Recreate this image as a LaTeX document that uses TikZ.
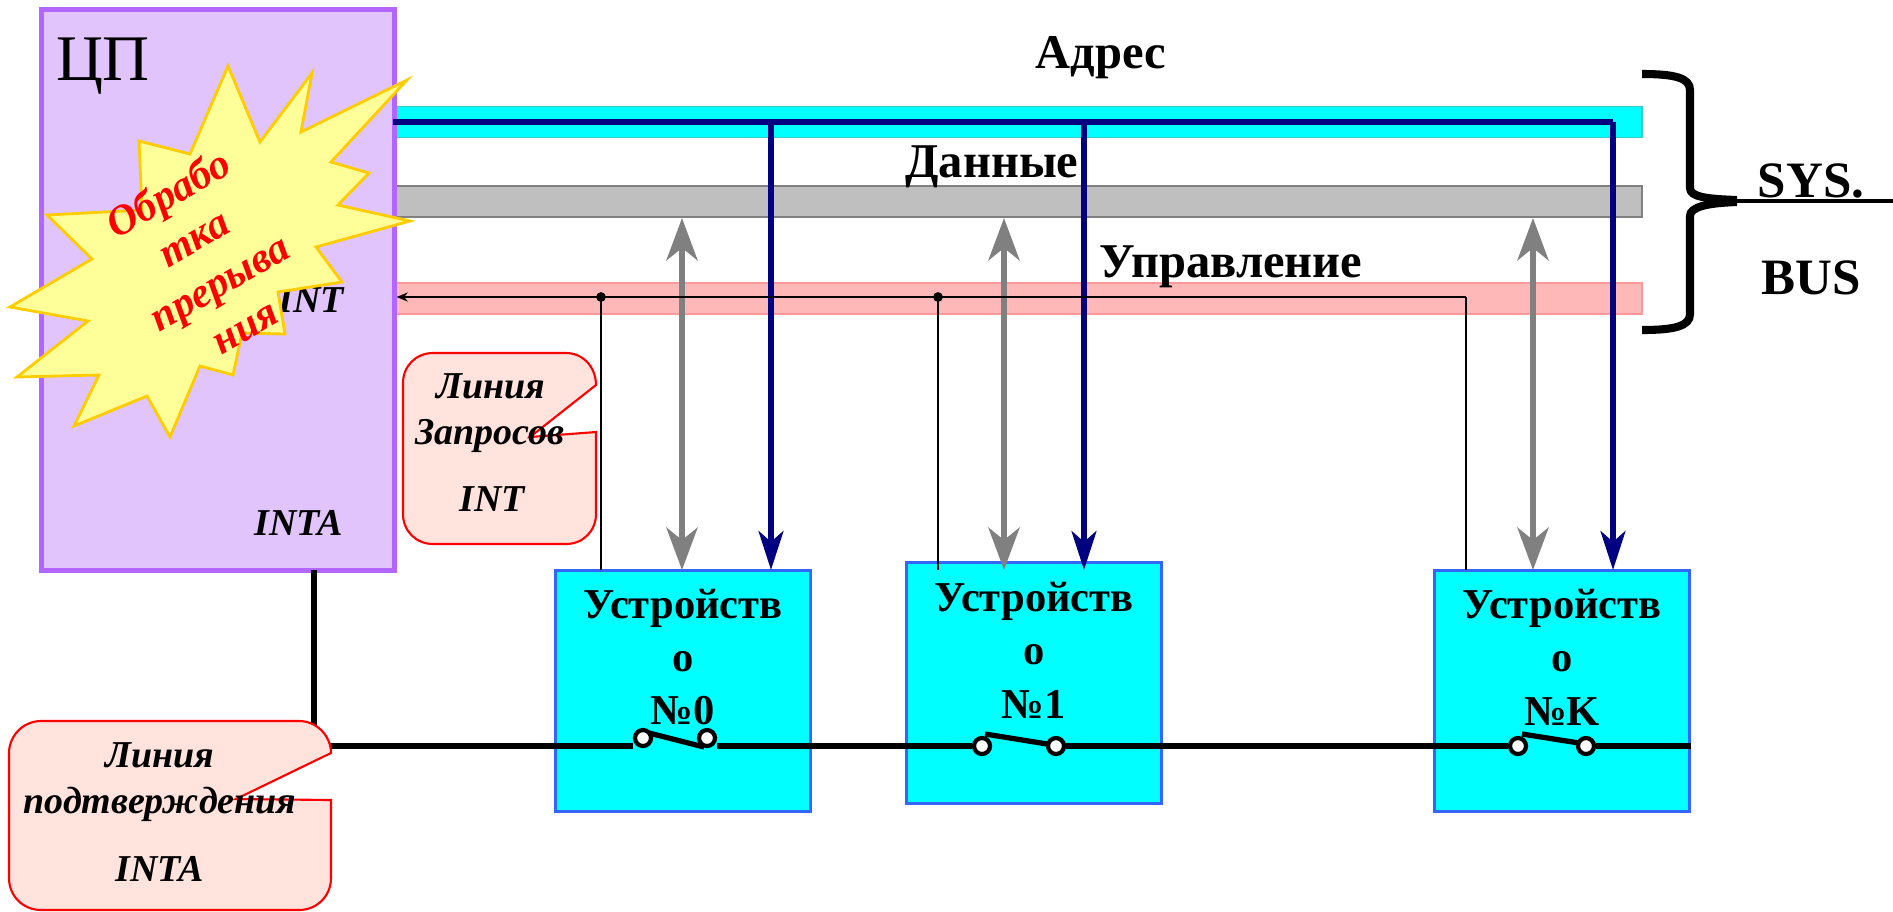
\documentclass[tikz,border=0pt]{standalone}
\usepackage{fontspec}
\setmainfont{Liberation Serif}
\usetikzlibrary{arrows.meta}

\tikzset{
    bar/.style={draw, line width=0.55pt, minimum width=12.47cm, minimum height=0.31cm, inner sep=0pt},
    cpubox/.style={draw=cpuedge, fill=cpufill, line width=1.4pt, minimum width=3.52cm, minimum height=5.6cm, inner sep=0pt},
    devbox/.style={draw=devedge, fill=purecyan, line width=0.7pt, minimum width=2.55cm, minimum height=2.41cm, inner sep=0pt},
    devtext/.style={align=center, font=\fontsize{12.1}{15.2}\selectfont\bfseries},
    buslabel/.style={font=\fontsize{13.8}{16}\selectfont\bfseries},
    syslabel/.style={font=\fontsize{14.5}{16}\selectfont\bfseries},
    itlabel/.style={font=\fontsize{10.8}{13}\selectfont\bfseries\itshape},
    callout/.style={draw=red, fill=calloutfill, line width=0.6pt},
    addrarrow/.style={draw=navyline, line width=1.8pt, -{Stealth[length=11pt, width=7pt, inset=3pt]}},
    dataarrow/.style={draw=gray, line width=1.9pt, {Stealth[length=12pt, width=8.8pt, inset=3.5pt]}-{Stealth[length=12pt, width=8.8pt, inset=3.5pt]}},
    reqline/.style={draw=black, line width=0.55pt},
    ackline/.style={draw=black, line width=1.5pt},
    contact/.style={circle, draw=black, fill=white, line width=1.2pt, minimum size=0.16cm, inner sep=0pt},
}
\definecolor{purecyan}{HTML}{00FFFF}
\definecolor{cyanedge}{HTML}{33CCCC}
\definecolor{cpufill}{HTML}{E0C4FB}
\definecolor{cpuedge}{HTML}{B266FF}
\definecolor{devedge}{HTML}{3366FF}
\definecolor{calloutfill}{HTML}{FFE3DC}
\definecolor{navyline}{HTML}{000080}
\definecolor{stargold}{HTML}{FFCC00}
\definecolor{starfill}{HTML}{FFFF99}

\begin{document}
\begin{tikzpicture}[x=0.01cm, y=-0.01cm]
    \useasboundingbox (0,0) rectangle (1893,911);

    % Шины
    \node[bar, draw=cyanedge, fill=purecyan] (addr) at (1018.5,122) {};
    \node[bar, draw=gray, fill=black!25] (data) at (1018.5,201.5) {};
    \node[bar, draw=red!40, fill=red!28] (ctrl) at (1018.5,298.5) {};
    \node[buslabel] (addrtext) at (1101,58) {Адрес};
    \node[buslabel] (datatext) at (992,167) {Данные};
    \node[buslabel] (ctrltext) at (1231,267) {Управление};

    % Процессор
    \node[cpubox] (cpu) at (218,290) {};
    \node[font=\fontsize{18.5}{20}\selectfont] (cputext) at (103,66) {ЦП};
    \node[itlabel] (inttext) at (311,300) {INT};
    \node[itlabel] (intatext) at (299,523) {INTA};

    % Устройства
    \foreach \nm/\cx/\cy/\ty in {0/683/691/657, 1/1034/683/650, K/1562/691/657} {
        \node[devbox] (dev\nm) at (\cx,\cy) {};
        \node[devtext] (devtext\nm) at (\cx,\ty) {Устройств\\о\\№\nm};
    }

    % Линия адреса и стрелки к устройствам
    \coordinate (addrL) at (393,122);
    \coordinate (addrR) at (1613,122);
    \foreach \nm/\ax/\gx in {0/771/682, 1/1084/1004, K/1613/1533} {
        \coordinate (atip\nm) at (\ax,570);
        \coordinate (gtip\nm) at (\gx,570);
        \draw[dataarrow] (gtip\nm) -- (gtip\nm |- data.south);
        \draw[addrarrow] (atip\nm |- addrL) -- (atip\nm);
    }
    \draw[draw=navyline, line width=1.9pt] (addrL) -- (addrR);

    % Линия запросов
    \coordinate (req0) at (601,297);
    \coordinate (req1) at (938,297);
    \coordinate (reqK) at (1466,297);
    \draw[reqline, -{Stealth[length=3.2pt, width=2.6pt]}] (reqK) -- (cpu.east |- reqK);
    \draw[reqline] (reqK) -- (1466,570);
    \draw[reqline] (req0) -- (601,570);
    \draw[reqline] (req1) -- (938,570);
    \fill (req0) circle (1.4pt);
    \fill (req1) circle (1.4pt);

    % Линия подтверждения с контактами
    \coordinate (ackT) at (314,570);
    \coordinate (ackC) at (314,746);
    \node[contact] (sw0a) at (643,738) {};
    \node[contact] (sw0b) at (707,738) {};
    \node[contact] (sw1a) at (982,746) {};
    \node[contact] (sw1b) at (1056,746) {};
    \node[contact] (swKa) at (1518,746) {};
    \node[contact] (swKb) at (1586,746) {};
    \draw[ackline] (ackT) -- (ackC) -- (ackC -| sw0a.west);
    \draw[ackline] (sw0b.east |- ackC) -- (ackC -| sw1a.west);
    \draw[ackline] (sw1b.east) -- (swKa.west);
    \draw[ackline] (swKb.east) -- (devK.east |- swKb);
    \draw[ackline] (649,733) -- (704,747);
    \draw[ackline] (985,734) -- (1047,744);
    \draw[ackline] (1522,734) -- (1579,743);

    % Выноски
    \draw[callout] (433,353) -- (566,353) .. controls (583,353) and (596,367) .. (596,385)
        -- (530,437) -- (596,432) -- (596,514) .. controls (596,531) and (583,544) .. (566,544)
        -- (433,544) .. controls (416,544) and (403,531) .. (403,514)
        -- (403,383) .. controls (403,366) and (416,353) .. (433,353) -- cycle;
    \node[itlabel] (reqtext1) at (491,386) {Линия};
    \node[itlabel] (reqtext2) at (490,436) {Запросов};
    \node[itlabel] (reqtext3) at (492,499) {INT};

    \draw[callout] (41,721) -- (299,721) .. controls (317,721) and (331,736) .. (331,753)
        -- (236,799) -- (331,800) -- (331,878) .. controls (331,896) and (317,910) .. (299,910)
        -- (41,910) .. controls (23,910) and (9,896) .. (9,878)
        -- (9,753) .. controls (9,736) and (23,721) .. (41,721) -- cycle;
    \node[itlabel] (acktext1) at (160,755) {Линия};
    \node[itlabel] (acktext2) at (160,804) {подтверждения};
    \node[itlabel] (acktext3) at (160,869) {INTA};

    % Звезда
    \draw[draw=stargold, fill=starfill, line width=0.8pt] (228,66) -- (260,142) -- (312,73) -- (301,132)
        -- (407,80) -- (331,162) -- (369,173) -- (338,205) -- (410,221) -- (316,247) -- (342,282)
        -- (278,292) -- (285,334) -- (242,333) -- (233,375) -- (200,366) -- (170,437) -- (147,396)
        -- (74,426) -- (99,375) -- (17,377) -- (88,321) -- (10,307) -- (92,259) -- (47,215)
        -- (142,210) -- (139,141) -- (190,154) -- cycle;
    \node[red, rotate=30, align=center, font=\fontsize{12}{14.5}\selectfont\bfseries\itshape] (isrtext) at (206,259) {Обрабо\\тка\\прерыва\\ния};

    % Скобка
    \draw[line width=2.3pt] (1642,74) .. controls (1675,74) and (1690,78) .. (1690,90)
        -- (1690,188) .. controls (1690,197) and (1707,199) .. (1737,200);
    \draw[line width=2.3pt] (1642,330) .. controls (1675,330) and (1690,326) .. (1690,314)
        -- (1690,216) .. controls (1690,207) and (1707,203) .. (1737,202);
    \draw[line width=1.4pt] (1720,201) -- (1893,201);
    \node[syslabel] (systext) at (1811,181) {SYS.};
    \node[syslabel] (bustext) at (1811,278) {BUS};

\end{tikzpicture}
\end{document}
